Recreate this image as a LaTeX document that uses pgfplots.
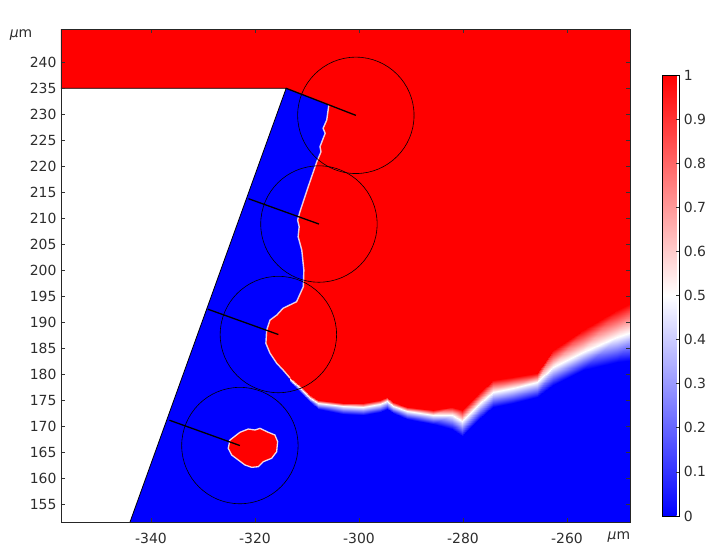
\documentclass[border=0pt]{standalone}
\usepackage{fontspec}
\setmainfont{DejaVu Sans}
\usepackage{pgfplots}
\pgfplotsset{compat=1.18}
\definecolor{fred}{RGB}{255,0,0}
\definecolor{fblue}{RGB}{0,0,255}
\definecolor{txt}{RGB}{45,45,45}
\newcommand{\tfont}{\fontsize{14}{16}\selectfont}
\begin{document}
\begin{tikzpicture}
\useasboundingbox (-61bp,-25.7bp) rectangle (658bp,522.3bp);
\begin{axis}[
  at={(0,0)}, anchor=south west,
  scale only axis, width=568.9bp, height=493bp,
  xmin=-357.3, xmax=-247.9, ymin=151.54, ymax=246.35,
  axis on top,
  xtick={-340,-320,-300,-280,-260},
  ytick={155,160,...,240},
  tick align=inside,
  major tick length=4bp,
  tick style={black!80, line width=0.6bp},
  axis line style={black!85, line width=0.8bp},
  every tick label/.append style={font=\tfont, text=txt},
  /pgf/number format/assume math mode=true,
  xticklabel style={yshift=-7bp},
  yticklabel style={xshift=-1bp},
  every axis x label/.style={at={(axis description cs:1,0)}, anchor=center, xshift=-11bp, yshift=-15bp, font=\tfont, text=txt},
  every axis y label/.style={at={(axis description cs:0,1)}, anchor=center, xshift=-40bp, yshift=-5.7bp, font=\tfont, text=txt},
  xlabel={\textit{µ}m}, ylabel={\textit{µ}m},
  colormap={bwr}{rgb255(0cm)=(0,0,255); rgb255(1cm)=(255,255,255); rgb255(2cm)=(255,0,0)},
  point meta min=0, point meta max=1,
  clip marker paths=true,
  colorbar,
  colorbar style={
    at={(parent axis.south east)}, anchor=south west,
    xshift=24bp, yshift=6.3bp,
    width=17bp, height=441bp, scale only axis,
    ytick={0,0.1,0.2,0.3,0.4,0.5,0.6,0.7,0.8,0.9,1},
    yticklabel pos=right, ytick pos=right,
    tick align=inside, major tick length=3bp,
    tick style={black!80, line width=0.6bp},
    axis line style={black, line width=0.6bp},
    /pgf/number format/assume math mode=true,
    every tick label/.append style={font=\tfont, text=txt},
    yticklabel style={xshift=1bp, /pgf/number format/fixed, /pgf/number format/precision=1, /pgf/number format/assume math mode=true},
  },
]
% blue domain
\addplot[fill=fblue, draw=none, mark=none, forget plot] coordinates {
(-314,235) (-247,235) (-247,151) (-344.24,151)} -- cycle;
% red region (bounded below by the mid-value line of the band)
\addplot[fill=fred, draw=none, mark=none, forget plot] coordinates {
(-358,247) (-247,247) (-247,188.30)
(-250.44,187.17) (-256.87,184.29) (-262.64,181.40) (-265.83,178.52) (-270.33,177.36)
(-274.17,176.60) (-276.73,174.48) (-280.25,171.02) (-282.12,172.17) (-285.71,172.27)
(-290.83,173.04) (-293.41,174.00) (-294.67,174.86) (-295.96,174.29) (-299.17,173.71)
(-303.02,173.81) (-307.83,174.48) (-309.42,175.54) (-310.71,176.79) (-313.27,179.10)
(-314.6,180.83) (-315.8,182.1) (-317.1,184.04) (-317.9,185.96) (-317.75,188.5)
(-317.1,190.44) (-315.8,191.4) (-314.6,192.7) (-312.0,193.96) (-310.7,196.85)
(-310.6,200.06) (-311.0,203.9) (-311.7,206.46) (-311.5,208.4) (-311.8,209.67)
(-311.35,211.27) (-310.4,214.15) (-309.75,216.1) (-309.1,218.0) (-308.1,220.9)
(-307.3,222.8) (-307.5,223.77) (-306.5,226.35) (-306.9,227.3) (-306.2,228.9)
(-305.8,231.8) (-314,235) (-358,235)} -- cycle;
% transition band red -> white
\addplot[patch, patch type=rectangle, shader=interp, forget plot] table[point meta=\thisrow{c}] {
x y c
-313.27 179.54 1
-310.71 177.31 1
-310.71 176.79 0.5
-313.27 179.10 0.5
-310.71 177.31 1
-309.42 176.02 1
-309.42 175.54 0.5
-310.71 176.79 0.5
-309.42 176.02 1
-307.83 175.06 1
-307.83 174.48 0.5
-309.42 175.54 0.5
-307.83 175.06 1
-303.02 174.42 1
-303.02 173.81 0.5
-307.83 174.48 0.5
-303.02 174.42 1
-299.17 174.42 1
-299.17 173.71 0.5
-303.02 173.81 0.5
-299.17 174.42 1
-295.96 175.06 1
-295.96 174.29 0.5
-299.17 173.71 0.5
-295.96 175.06 1
-294.67 175.69 1
-294.67 174.86 0.5
-295.96 174.29 0.5
-294.67 175.69 1
-293.41 174.73 1
-293.41 174.00 0.5
-294.67 174.86 0.5
-293.41 174.73 1
-290.83 173.77 1
-290.83 173.04 0.5
-293.41 174.00 0.5
-290.83 173.77 1
-285.71 173.13 1
-285.71 172.27 0.5
-290.83 173.04 0.5
-285.71 173.13 1
-282.12 173.71 1
-282.12 172.17 0.5
-285.71 172.27 0.5
-282.12 173.71 1
-280.25 173.13 1
-280.25 171.02 0.5
-282.12 172.17 0.5
-280.25 173.13 1
-276.73 176.60 1
-276.73 174.48 0.5
-280.25 171.02 0.5
-276.73 176.60 1
-274.17 178.90 1
-274.17 176.60 0.5
-276.73 174.48 0.5
-274.17 178.90 1
-270.33 179.48 1
-270.33 177.36 0.5
-274.17 176.60 0.5
-270.33 179.48 1
-265.83 180.25 1
-265.83 178.52 0.5
-270.33 177.36 0.5
-265.83 180.25 1
-262.64 184.67 1
-262.64 181.40 0.5
-265.83 178.52 0.5
-262.64 184.67 1
-256.87 188.52 1
-256.87 184.29 0.5
-262.64 181.40 0.5
-256.87 188.52 1
-250.44 192.36 1
-250.44 187.17 0.5
-256.87 184.29 0.5
-250.44 192.36 1
-247.00 194.10 1
-247.00 188.30 0.5
-250.44 187.17 0.5
};
% transition band white -> blue
\addplot[patch, patch type=rectangle, shader=interp, forget plot] table[point meta=\thisrow{c}] {
x y c
-313.27 179.10 0.5
-310.71 176.79 0.5
-310.71 176.00 0
-313.27 178.52 0
-310.71 176.79 0.5
-309.42 175.54 0.5
-309.42 174.60 0
-310.71 176.00 0
-309.42 175.54 0.5
-307.83 174.48 0.5
-307.83 173.30 0
-309.42 174.60 0
-307.83 174.48 0.5
-303.02 173.81 0.5
-303.02 172.40 0
-307.83 173.30 0
-303.02 173.81 0.5
-299.17 173.71 0.5
-299.17 172.20 0
-303.02 172.40 0
-299.17 173.71 0.5
-295.96 174.29 0.5
-295.96 172.80 0
-299.17 172.20 0
-295.96 174.29 0.5
-294.67 174.86 0.5
-294.67 173.40 0
-295.96 172.80 0
-294.67 174.86 0.5
-293.41 174.00 0.5
-293.41 172.50 0
-294.67 173.40 0
-293.41 174.00 0.5
-290.83 173.04 0.5
-290.83 171.50 0
-293.41 172.50 0
-290.83 173.04 0.5
-285.71 172.27 0.5
-285.71 170.50 0
-290.83 171.50 0
-285.71 172.27 0.5
-282.12 172.17 0.5
-282.12 169.50 0
-285.71 170.50 0
-282.12 172.17 0.5
-280.25 171.02 0.5
-280.25 168.13 0
-282.12 169.50 0
-280.25 171.02 0.5
-276.73 174.48 0.5
-276.73 171.60 0
-280.25 168.13 0
-276.73 174.48 0.5
-274.17 176.60 0.5
-274.17 173.71 0
-276.73 171.60 0
-274.17 176.60 0.5
-270.33 177.36 0.5
-270.33 174.48 0
-274.17 173.71 0
-270.33 177.36 0.5
-265.83 178.52 0.5
-265.83 175.63 0
-270.33 174.48 0
-265.83 178.52 0.5
-262.64 181.40 0.5
-262.64 177.94 0
-265.83 175.63 0
-262.64 181.40 0.5
-256.87 184.29 0.5
-256.87 180.83 0
-262.64 177.94 0
-256.87 184.29 0.5
-250.44 187.17 0.5
-250.44 182.36 0
-256.87 180.83 0
-250.44 187.17 0.5
-247.00 188.30 0.5
-247.00 182.80 0
-250.44 182.36 0
};
% thin light edge of the left interface
\addplot[white, opacity=0.8, line width=1.4bp, mark=none, forget plot] coordinates {
(-305.8,231.8) (-306.2,228.9) (-306.9,227.3) (-306.5,226.35) (-307.5,223.77)
(-307.3,222.8) (-308.1,220.9) (-309.1,218.0) (-309.75,216.1) (-310.4,214.15)
(-311.35,211.27) (-311.8,209.67) (-311.5,208.4) (-311.7,206.46) (-311.0,203.9)
(-310.6,200.06) (-310.7,196.85) (-312.0,193.96) (-314.6,192.7) (-315.8,191.4)
(-317.1,190.44) (-317.75,188.5) (-317.9,185.96) (-317.1,184.04) (-315.8,182.1)
(-314.6,180.83) (-313.27,179.3)};
% island
\addplot[fill=fred, draw=white, draw opacity=0.85, line width=1.3bp, mark=none, forget plot] coordinates {
(-324.81,167.36) (-322.89,168.85) (-321.29,169.48) (-320.0,169.29) (-319.04,169.61)
(-317.44,168.85) (-316.16,168.33) (-315.64,167.04) (-315.83,165.11) (-316.79,163.85)
(-318.41,163.19) (-319.37,162.23) (-320.64,162.11) (-321.92,162.56) (-323.21,163.52)
(-324.48,164.48) (-325.14,165.77)} -- cycle;
% wedge boundary
\addplot[black, line width=0.8bp, mark=none, forget plot] coordinates {
(-358,235) (-314,235) (-344.6,150)};
% circles
\addplot[only marks, mark=o, mark size=58.2bp, black, mark options={line width=0.6bp}, forget plot] coordinates {
(-300.6,229.8) (-307.7,208.9) (-315.5,187.65) (-322.9,166.3) (-330.4,145.0)};
% radial segments
\addplot[black, line width=1.3bp, mark=none, forget plot] coordinates {(-314,235) (-300.6,229.8)};
\addplot[black, line width=1.3bp, mark=none, forget plot] coordinates {(-321.25,213.77) (-307.7,208.9)};
\addplot[black, line width=1.3bp, mark=none, forget plot] coordinates {(-329.05,192.52) (-315.5,187.65)};
\addplot[black, line width=1.3bp, mark=none, forget plot] coordinates {(-336.45,171.17) (-322.9,166.3)};
\end{axis}
\end{tikzpicture}
\end{document}
